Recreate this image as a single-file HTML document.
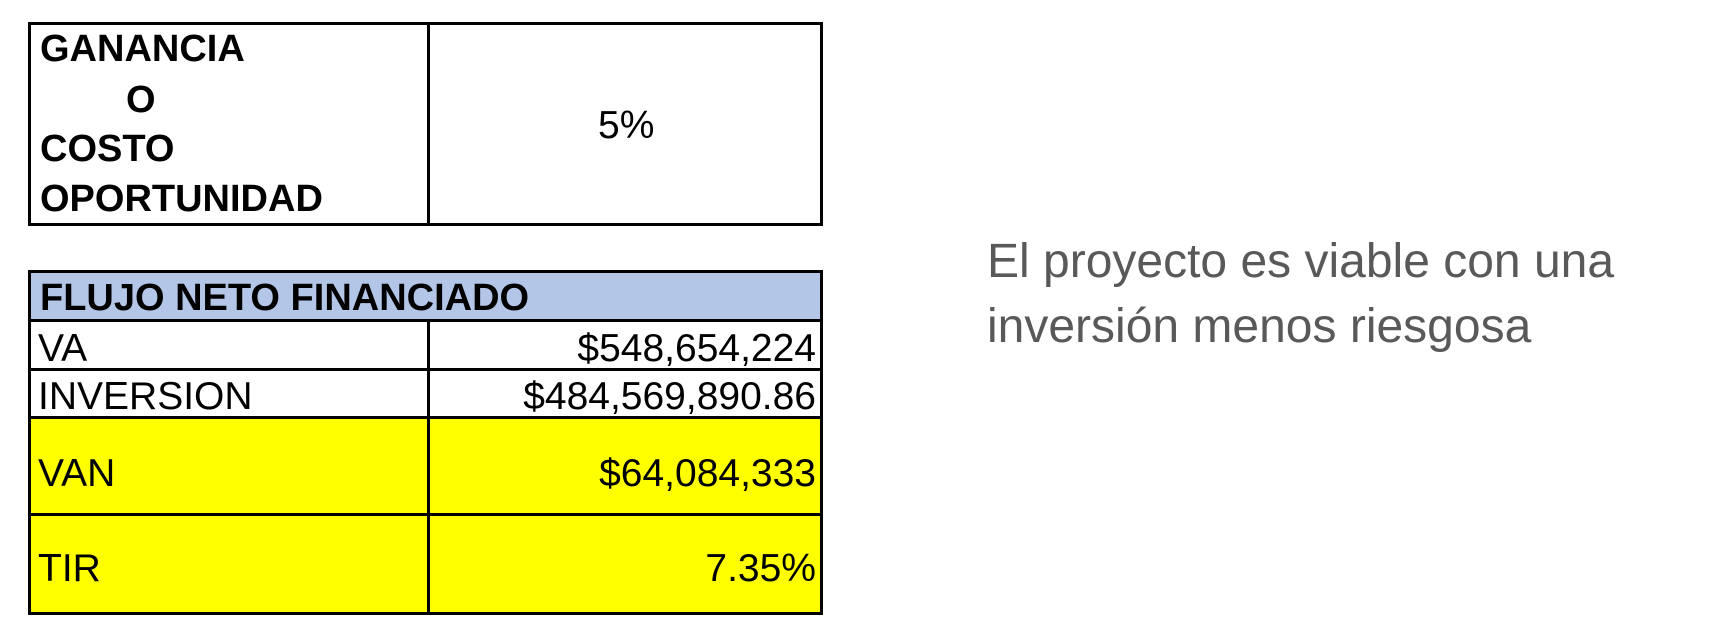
<!DOCTYPE html>
<html><head><meta charset="utf-8"><style>
body{margin:0;width:1732px;height:638px;background:#fff;position:relative;overflow:hidden;font-family:"Liberation Sans",sans-serif}
.a{position:absolute}
.box{position:absolute;box-sizing:border-box;border:3px solid #000}
.t{position:absolute;white-space:nowrap;line-height:1;color:#000}
.b{font-weight:bold;font-size:38px}
.r{font-size:39px}
</style></head><body>
<div class="box" style="left:28px;top:22px;width:795px;height:204px"></div>
<div class="a" style="left:427px;top:22px;width:3px;height:204px;background:#000"></div>
<div class="t b" style="left:40px;top:30px">GANANCIA</div>
<div class="t b" style="left:126px;top:81px">O</div>
<div class="t b" style="left:40px;top:130px">COSTO</div>
<div class="t b" style="left:40px;top:180px">OPORTUNIDAD</div>
<div class="t r" style="left:598px;top:106px">5%</div>

<div class="a" style="left:28px;top:270px;width:795px;height:50px;background:#b4c6e7"></div>
<div class="a" style="left:28px;top:417px;width:795px;height:197px;background:#ffff00"></div>
<div class="box" style="left:28px;top:270px;width:795px;height:345px"></div>
<div class="a" style="left:28px;top:319px;width:795px;height:3px;background:#000"></div>
<div class="a" style="left:28px;top:368px;width:795px;height:3px;background:#000"></div>
<div class="a" style="left:28px;top:416px;width:795px;height:3px;background:#000"></div>
<div class="a" style="left:28px;top:513px;width:795px;height:3px;background:#000"></div>
<div class="a" style="left:427px;top:319px;width:3px;height:295px;background:#000"></div>
<div class="t b" style="left:40px;top:279px">FLUJO NETO FINANCIADO</div>
<div class="t r" style="left:38px;top:329px">VA</div>
<div class="t r" style="left:38px;top:377px">INVERSION</div>
<div class="t r" style="left:38px;top:454px">VAN</div>
<div class="t r" style="left:38px;top:549px">TIR</div>
<div class="t r" style="right:916px;top:329px">$548,654,224</div>
<div class="t r" style="right:916px;top:377px">$484,569,890.86</div>
<div class="t r" style="right:916px;top:454px">$64,084,333</div>
<div class="t r" style="right:916px;top:549px">7.35%</div>

<div class="t" style="left:987px;top:229px;font-size:48px;line-height:65px;color:#595959">El proyecto es viable con una<br>inversión menos riesgosa</div>
</body></html>
